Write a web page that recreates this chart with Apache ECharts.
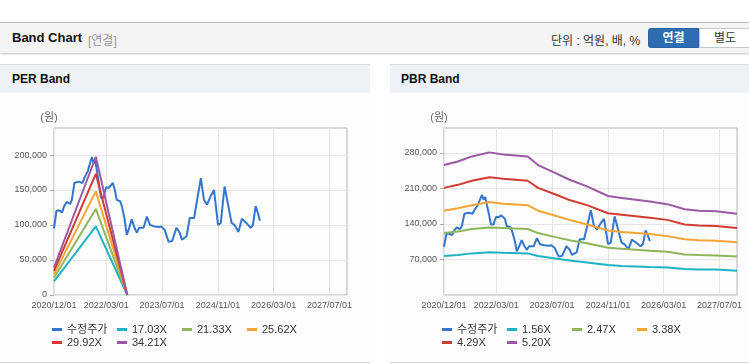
<!DOCTYPE html>
<html>
<head>
<meta charset="utf-8">
<script src="https://cdn.jsdelivr.net/npm/echarts@6/dist/echarts.min.js"></script>
<style>
  body { margin: 0; width: 749px; height: 364px; overflow: hidden; background: #fff;
    font-family: 'Liberation Sans', Arial, 'Noto Sans CJK KR', sans-serif; position: relative; }
  .topbar { position: absolute; left: 0; top: 22px; width: 749px; height: 30px; background: #f4f4f4;
    border-top: 1px solid #b9b9b9; box-shadow: 0 1px 2px rgba(0,0,0,0.25); }
  .topbar .title { position: absolute; left: 12px; top: 7px; font-size: 13px; font-weight: bold; color: #111; }
  .topbar .sub { position: absolute; left: 88px; top: 8px; font-size: 12px; color: #999; }
  .topbar .unit { position: absolute; left: 551px; top: 8px; font-size: 12px; color: #333; }
  .btn { position: absolute; top: 5px; height: 19px; line-height: 19px; text-align: center; font-size: 12px; }
  .btn.on { left: 648px; width: 51px; background: #2f6db3; color: #fff; font-weight: bold; border-radius: 3px 0 0 3px; border: 1px solid #2a62a3; box-sizing: border-box; height: 20px; }
  .btn.off { left: 699px; width: 52px; background: #fff; color: #333; border: 1px solid #c8c8c8; box-sizing: border-box; height: 20px; }
  .panel { position: absolute; top: 64px; height: 297px; border-top: 1px solid #dcdcdc; border-bottom: 1px solid #d6d6d6; background: #fdfdfd; }
  .panel .head { height: 28px; background: #eef2f7; font-size: 12px; font-weight: bold; color: #111; line-height: 28px; padding-left: 12px; }
  .chart { position: absolute; top: 93px; height: 269px; }
</style>
</head>
<body>
<div class="topbar">
  <span class="title">Band Chart</span>
  <span class="sub">[연결]</span>
  <span class="unit">단위 : 억원, 배, %</span>
  <div class="btn on">연결</div>
  <div class="btn off">별도</div>
</div>
<div class="panel" style="left:0;width:370px"><div class="head">PER Band</div></div>
<div class="panel" style="left:390px;width:359px"><div class="head" style="padding-left:11px">PBR Band</div></div>
<div id="per" class="chart" style="left:0;width:370px"></div>
<div id="pbr" class="chart" style="left:390px;width:359px"></div>
<script>
// 수정주가 (same series on both charts)
const priceDates = ['2020-12-01','2020-12-22','2021-01-15','2021-02-10','2021-02-25','2021-03-22','2021-04-20','2021-05-06','2021-05-28','2021-07-03',
  '2021-08-07','2021-08-25','2021-09-22','2021-10-07','2021-10-28','2021-11-12','2021-11-25','2021-12-25','2022-01-15','2022-02-07',
  '2022-02-15','2022-03-01','2022-03-25','2022-04-12','2022-04-28','2022-05-16','2022-06-01','2022-07-01','2022-07-16','2022-08-07',
  '2022-08-28','2022-09-18','2022-10-10','2022-11-03','2022-11-24','2022-12-13','2023-01-22','2023-02-19','2023-03-19','2023-04-25',
  '2023-06-01','2023-06-25','2023-07-24','2023-08-28','2023-09-27','2023-11-04','2023-12-03','2023-12-22','2024-02-01','2024-02-28',
  '2024-04-06','2024-06-04','2024-07-01','2024-07-28','2024-08-28','2024-09-27','2024-11-01','2024-11-25','2024-12-28','2025-01-22',
  '2025-02-27','2025-03-25','2025-04-28','2025-05-28','2025-07-06','2025-08-12','2025-09-01','2025-09-25','2025-10-15','2025-11-01']
const priceValues = [95000,120000,121000,118000,126000,133000,130000,136000,160000,162000,
  160000,168000,177000,186000,197000,188000,193000,162000,139000,139000,
  146000,154000,153000,157000,160000,150000,136000,134000,127000,110000,
  86000,96000,108000,96000,89000,96000,96000,112000,100000,98000,
  97000,98000,93000,76000,77000,96000,89000,79000,84000,110000,
  110000,167000,136000,129000,141000,150000,100000,103000,155000,134000,
  103000,100000,90000,109000,103000,96000,100000,127000,117000,106000]

// PER band
const perDates = ['2020-12-01','2021-12-01','2022-09-01']
const per1703 = [19600, 98000, 0]
const per2133 = [24500, 123000, 0]
const per2562 = [29500, 148000, 0]
const per2992 = [34400, 173000, 0]
const per3421 = [39300, 197500, 0]
const perNames = ['수정주가', '17.03X', '21.33X', '25.62X', '29.92X', '34.21X']
const perTicks = [0, 50000, 100000, 150000, 200000]

// PBR band
const pbrDates = ['2020-12-01','2021-04-01','2021-08-01','2022-01-01','2022-05-01','2022-12-01','2023-03-01','2023-08-01','2023-12-01',
  '2024-05-01','2024-11-01','2025-03-01','2025-11-01','2026-04-01','2026-09-01','2027-01-01','2027-06-01','2027-12-01']
const pbr156 = [77000,79000,82000,84000,83000,82000,77000,72000,68000,64000,59000,57000,55000,54000,51000,50000,50000,48000]
const pbr247 = [122000,125000,130000,133000,132000,130000,122000,114000,108000,102000,93000,91000,87000,85000,80000,79000,78000,76000]
const pbr338 = [166000,171000,177000,183000,180000,177000,166000,156000,148000,139000,127000,124000,120000,116000,110000,108000,107000,104000]
const pbr429 = [211000,217000,225000,232000,229000,225000,211000,198000,187000,177000,161000,158000,152000,148000,139000,137000,136000,132000]
const pbr520 = [256000,263000,273000,281000,277000,273000,256000,240000,227000,214000,195000,191000,184000,179000,169000,166000,165000,160000]
const pbrNames = ['수정주가', '1.56X', '2.47X', '3.38X', '4.29X', '5.20X']
const pbrTicks = [70000, 140000, 210000, 280000]

const xLabelDates = ['2020-12-01','2022-03-01','2023-07-01','2024-11-01','2026-03-01','2027-07-01']
const xMin = '2020-12-01'
const xMax = '2027-12-01'

const colors = ['#3476cf', '#1fb3c4', '#8fb55a', '#f4a433', '#d13a35', '#9b59a3']
const FONT = "'Liberation Sans', Arial, 'Noto Sans CJK KR', sans-serif"

// dates -> local timestamps, x axis is a plain value axis
function ts(s) {
  const p = s.split('-').map(Number)
  return new Date(p[0], p[1] - 1, p[2]).getTime()
}
function pairs(dates, vals) {
  return dates.map((d, i) => [ts(d), vals[i]])
}
function pad(n) { return n < 10 ? '0' + n : '' + n }

function buildOption(names, bands, bandDates, yMax, yTicks) {
  const legends = names.map((n, i) => ({
    data: [n],
    left: 52 + (i % 4) * 65,
    top: 230 + Math.floor(i / 4) * 13,
    icon: 'rect',
    itemWidth: 10,
    itemHeight: 3,
    padding: 0,
    selectedMode: false,
    textStyle: { fontSize: 11, color: '#333', fontFamily: FONT, lineHeight: 13 },
  }))
  const series = [{
    name: names[0],
    type: 'line',
    data: pairs(priceDates, priceValues),
    showSymbol: false,
    z: 3,
    lineStyle: { width: 2, color: colors[0] },
    itemStyle: { color: colors[0] },
  }]
  bands.forEach((vals, i) => {
    series.push({
      name: names[i + 1],
      type: 'line',
      data: pairs(bandDates, vals),
      showSymbol: false,
      lineStyle: { width: 2, color: colors[i + 1] },
      itemStyle: { color: colors[i + 1] },
    })
  })
  const xTicks = xLabelDates.map(ts)
  return {
    animation: false,
    textStyle: { fontFamily: FONT },
    grid: { left: 54, right: 0, top: 35, bottom: 67, show: true, borderColor: '#b3b3b3', borderWidth: 1, backgroundColor: 'transparent' },
    legend: legends,
    xAxis: {
      type: 'value',
      min: ts(xMin),
      max: ts(xMax),
      axisLine: { show: false },
      axisTick: { show: false, customValues: xTicks },
      axisLabel: {
        customValues: xTicks,
        fontSize: 9,
        color: '#555',
        margin: 6,
        formatter: function (v) {
          const d = new Date(v)
          return d.getFullYear() + '/' + pad(d.getMonth() + 1) + '/' + pad(d.getDate())
        },
      },
      splitLine: { show: true, lineStyle: { color: '#e6e6e6', width: 1 } },
    },
    yAxis: {
      type: 'value',
      min: 0,
      max: yMax,
      name: '(원)',
      nameLocation: 'end',
      nameGap: 5,
      nameTextStyle: { fontSize: 11, color: '#666', padding: [0, 10, 0, 0] },
      axisLine: { show: false },
      axisTick: { show: true, length: 4, customValues: yTicks, lineStyle: { color: '#aaa' } },
      axisLabel: {
        customValues: yTicks,
        fontSize: 9,
        color: '#555',
        margin: 7,
        formatter: v => v.toLocaleString('en-US'),
      },
      splitLine: { show: true, lineStyle: { color: '#e6e6e6', width: 1 } },
    },
    series: series,
  }
}

const perChart = echarts.init(document.getElementById('per'))
const perOpt = buildOption(perNames, [per1703, per2133, per2562, per2992, per3421], perDates, 238600, perTicks)
perOpt.grid.right = 23
perChart.setOption(perOpt)

const pbrChart = echarts.init(document.getElementById('pbr'))
const pbrOpt = buildOption(pbrNames, [pbr156, pbr247, pbr338, pbr429, pbr520], pbrDates, 329000, pbrTicks)
pbrOpt.grid.right = 12
pbrChart.setOption(pbrOpt)
</script>
</body>
</html>
